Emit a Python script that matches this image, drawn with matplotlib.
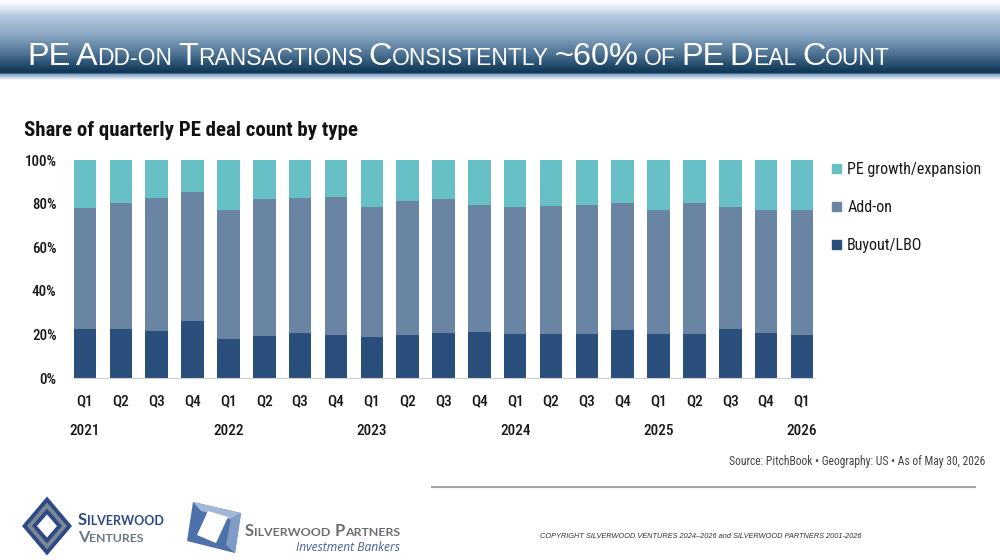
import numpy as np
import matplotlib
matplotlib.use("Agg")
import matplotlib.pyplot as plt
import matplotlib.font_manager as fm
from matplotlib.colors import to_rgb
from matplotlib.patches import Polygon, Patch

# fonts: use condensed / narrow faces when they exist
names = {f.name for f in fm.fontManager.ttflist}
COND = "Roboto Condensed" if "Roboto Condensed" in names else "Roboto"
NARROW = "Liberation Sans Narrow" if "Liberation Sans Narrow" in names else "Liberation Sans"

# data (share of quarterly PE deal count, %)
quarters = ["Q1", "Q2", "Q3", "Q4"] * 5 + ["Q1"]
years = ["2021", "2022", "2023", "2024", "2025", "2026"]
buyout = [22.7, 22.7, 21.4, 26.0, 17.8, 19.3, 20.5, 19.6, 18.7, 19.6, 20.5,
          21.1, 20.2, 20.2, 20.2, 22.1, 20.2, 20.2, 22.7, 20.5, 19.6]
addon = [55.1, 57.8, 61.3, 59.1, 59.2, 62.6, 62.2, 63.4, 59.7, 61.6, 61.4,
         58.2, 58.2, 58.5, 59.1, 58.1, 56.7, 60.0, 55.7, 56.4, 57.3]
growth = [22.2, 19.5, 17.3, 14.9, 23.0, 18.1, 17.3, 17.0, 21.6, 18.8, 18.1,
          20.7, 21.6, 21.3, 20.7, 19.8, 23.1, 19.8, 21.6, 23.1, 23.1]
series = ["Buyout/LBO", "Add-on", "PE growth/expansion"]
colors = ["#2b4f7c", "#6a84a4", "#66c0c6"]

fig = plt.figure(figsize=(10, 5.6), dpi=100)
deco = fig.add_axes([0, 0, 1, 1])
renderer = fig.canvas.get_renderer()

# header band
stops = [(0, "#ffffff"), (5, "#eef3f8"), (16, "#b5c9de"), (36, "#86a4c2"),
         (54, "#4d7293"), (67, "#1d4566"), (73, "#0f3451"), (74, "#7fa2c4"),
         (76, "#a4bdd8"), (79, "#e8eef5"), (80, "#ffffff")]
ys = np.arange(80) + 0.5
img = np.zeros((80, 1, 3))
for ch in range(3):
    img[:, 0, ch] = np.interp(ys, [s[0] for s in stops], [to_rgb(s[1])[ch] for s in stops])
deco.imshow(img, extent=[0, 1000, 80, 0], aspect="auto", interpolation="bilinear")
deco.set_xlim(0, 1000)
deco.set_ylim(560, 0)
deco.axis("off")


def caps_runs(word):
    runs = []
    for c in word:
        small = c.islower() or c == "-"
        if runs and runs[-1][0] == small:
            runs[-1][1] += c
        else:
            runs.append([small, c])
    return runs


def small_caps(x, y, s, big, small, width=None, **kw):
    def place(big, small):
        out = []
        cx = x
        a = deco.text(0, 0, "AA", fontsize=big, **kw)
        b = deco.text(0, 0, "A A", fontsize=big, **kw)
        sp = b.get_window_extent(renderer).width - a.get_window_extent(renderer).width
        a.remove()
        b.remove()
        for word in s.split(" "):
            for is_small, chunk in caps_runs(word):
                t = deco.text(cx, y, chunk.upper(), fontsize=small if is_small else big,
                              ha="left", va="baseline", **kw)
                cx += t.get_window_extent(renderer).width
                out.append(t)
            cx += sp
        return out, cx - sp - x

    out, w = place(big, small)
    if width:
        k = width / w
        for t in out:
            t.remove()
        out, w = place(big * k, small * k)
    return out


def fit(t, width):
    w = t.get_window_extent(renderer).width
    t.set_fontsize(t.get_fontsize() * width / w)


small_caps(27, 65, "PE Add-on Transactions Consistently ~60% of PE Deal Count", 22, 15.5,
           width=863, color="white", family=NARROW)

# chart
t = deco.text(24, 136, "Share of quarterly PE deal count by type", ha="left", va="baseline",
              fontsize=12.5, fontweight="bold", family=COND, color="#111111")
fit(t, 336)

ax = fig.add_axes([0.0732, (560 - 378) / 560, 0.7406, (378 - 160) / 560])
x = np.arange(len(quarters))
bottom = np.zeros(len(x))
handles = []
for name, vals, col in zip(series, [buyout, addon, growth], colors):
    ax.bar(x, vals, bottom=bottom, width=0.63, color=col, label=name, clip_on=False)
    bottom = bottom + np.array(vals)
    handles.append(Patch(color=col, label=name))

ax.set_xlim(-0.33, 20.33)
ax.set_ylim(0, 100)
ax.set_yticks(range(0, 101, 20), [f"{v}%" for v in range(0, 101, 20)])
ax.xaxis.remove_overlapping_locs = False
ax.set_xticks(x, quarters)
ax.set_xticks([i for i, q in enumerate(quarters) if q == "Q1"], years, minor=True)
ax.tick_params(axis="y", length=0, pad=12, labelsize=10.8, labelcolor="#1a1a1a")
ax.tick_params(axis="x", which="major", length=0, pad=12, labelsize=11, labelcolor="#1a1a1a")
ax.tick_params(axis="x", which="minor", length=0, pad=33, labelsize=11, labelcolor="#1a1a1a")
for lab in ax.get_xticklabels(which="both") + ax.get_yticklabels():
    lab.set_family(COND)
    lab.set_fontweight("medium")
for side in ["top", "right", "left"]:
    ax.spines[side].set_visible(False)
ax.spines["bottom"].set_color("#d0d0d0")
ax.set_facecolor("none")

ax.legend(handles=handles[::-1], loc="upper left", bbox_to_anchor=(0.832, 1 - 162 / 560),
          bbox_transform=fig.transFigure, frameon=False, prop={"family": COND, "size": 11.5},
          labelcolor="#1a1a1a", handlelength=0.55, handleheight=0.55, handletextpad=0.4,
          labelspacing=1.45, borderpad=0, borderaxespad=0)

t = deco.text(985, 462, "Source: PitchBook \u2022 Geography: US \u2022 As of May 30, 2026",
              ha="right", va="center", fontsize=8, family=COND, color="#444444")
fit(t, 258)

# footer
deco.plot([432, 975], [487, 487], color="#a5a5a5", lw=1.5)
t = deco.text(701, 537, "COPYRIGHT SILVERWOOD VENTURES 2024\u20132026 and SILVERWOOD PARTNERS 2001-2026",
              ha="center", va="center", fontsize=6.5, style="italic", family=NARROW, color="#333333")
fit(t, 321)

# Silverwood Ventures logo
cx, cy = 47, 526
for hw, hh, col in [(25, 29.5, "#2d4a86"), (20, 23.5, "#7d8794"), (15, 17.5, "#2d4a86"), (10, 11.5, "white")]:
    deco.add_patch(Polygon([(cx, cy - hh), (cx + hw, cy), (cx, cy + hh), (cx - hw, cy)], closed=True,
                           facecolor=col, edgecolor="none"))
small_caps(78, 525, "Silverwood", 12, 9, width=86, color="#2d4a86", family="Lato", fontweight="bold")
small_caps(78, 542, "Ventures", 12, 9, width=66, color="#6b7785", family="Lato", fontweight="bold")

# Silverwood Partners logo
deco.add_patch(Polygon([(193, 502), (241, 513), (235, 553), (187, 541)], closed=True,
                       facecolor="#4d72ab", edgecolor="none"))
deco.add_patch(Polygon([(193, 502), (241, 513), (236, 521), (201, 511)], closed=True,
                       facecolor="#a3b7d6", edgecolor="none"))
deco.add_patch(Polygon([(241, 513), (235, 553), (226, 545), (231, 518)], closed=True,
                       facecolor="#7f9cc7", edgecolor="none"))
deco.add_patch(Polygon([(208, 511), (228, 517), (216, 543), (197, 535)], closed=True,
                       facecolor="white", edgecolor="none"))
small_caps(245, 536, "Silverwood Partners", 12, 9, width=155, color="#6b6e72", family="Lato",
           fontweight="bold")
t = deco.text(400, 551, "Investment Bankers", ha="right", va="baseline", fontsize=8.5,
              style="italic", family="Open Sans", color="#44609a")
fit(t, 103)

fig.savefig("out.png", dpi=100)
